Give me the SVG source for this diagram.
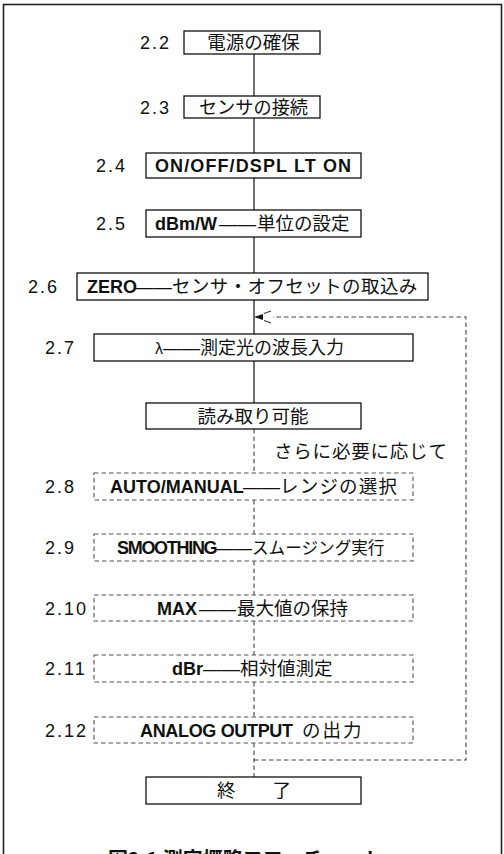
<svg xmlns="http://www.w3.org/2000/svg" width="504" height="854" viewBox="0 0 504 854">
<defs>
<style>
.frame{fill:none;stroke:#222;stroke-width:1.6}
.box{fill:#fff;stroke:#111;stroke-width:1.3}
.dbox{fill:#fff;stroke:#555;stroke-width:1.1;stroke-dasharray:4.5 3}
.line{fill:none;stroke:#111;stroke-width:1.2}
.dline{fill:none;stroke:#444;stroke-width:1.1;stroke-dasharray:4.5 3}
.num{font-family:"Liberation Sans",Arial,sans-serif;font-size:18px;letter-spacing:2px;fill:#111}
.jp{font-family:"Noto Sans CJK JP","Noto Sans",sans-serif;font-size:18.5px;fill:#111}
.en{font-family:"Liberation Sans",Arial,sans-serif;font-size:18px;font-weight:bold;fill:#111}
.dash{font-family:"Liberation Sans",Arial,sans-serif;font-size:18.5px;font-weight:normal}
.cap{font-family:"Noto Sans CJK JP",sans-serif;font-size:20px;font-weight:bold;fill:#111}
</style>
<marker id="ah" markerUnits="userSpaceOnUse" markerWidth="30" markerHeight="20" refX="0" refY="0" orient="auto" overflow="visible" viewBox="-2 -10 30 20">
<path d="M19,0 L10,-3 L10,3 Z" fill="#111"/>
<path d="M9,-3.5 L2,-6 M9,3.5 L2,6" stroke="#333" stroke-width="1.1" fill="none"/>
</marker>
</defs>
<rect x="0" y="0" width="504" height="854" fill="#fff"/>
<rect class="frame" x="3.5" y="4.5" width="498" height="870"/>

<g id="connectors">
<path class="line" d="M254,54 V96 M254,118 V153 M254,178 V210 M254,237 V273 M254,300 V334 M254,361 V403"/>
<path class="dline" d="M254,429 V473 M254,500 V534 M254,561 V595 M254,621 V655 M254,682 V717 M254,743 V777"/>
<path class="dline" d="M254,760 H466 V317 H273" marker-end="url(#ah)"/>
</g>

<g id="n22">
<text class="num" x="140" y="49">2.2</text>
<rect class="box" x="184" y="31" width="136" height="23"/>
<text class="jp" x="253.5" y="49" text-anchor="middle">電源の確保</text>
</g>
<g id="n23">
<text class="num" x="140" y="114">2.3</text>
<rect class="box" x="184" y="96" width="136" height="22"/>
<text class="jp" x="253.5" y="113.5" text-anchor="middle" style="font-size:18.2px">センサの接続</text>
</g>
<g id="n24">
<text class="num" x="96" y="172">2.4</text>
<rect class="box" x="146" y="153" width="215" height="25"/>
<text class="en" x="155" y="172" textLength="196" lengthAdjust="spacing">ON/OFF/DSPL LT ON</text>
</g>
<g id="n25">
<text class="num" x="96" y="230">2.5</text>
<rect class="box" x="146" y="210" width="215" height="27"/>
<text class="jp" y="230"><tspan class="en" x="155">dBm/W</tspan><tspan class="dash" x="219">——</tspan><tspan x="257">単位の設定</tspan></text>
</g>
<g id="n26">
<text class="num" x="28" y="293">2.6</text>
<rect class="box" x="77" y="273" width="351" height="27"/>
<text class="jp" y="293"><tspan class="en" x="87">ZERO</tspan><tspan class="dash" x="135">——</tspan><tspan x="172" style="letter-spacing:0.4px">センサ・オフセットの取込み</tspan></text>
</g>
<g id="n27">
<text class="num" x="45" y="354">2.7</text>
<rect class="box" x="94" y="334" width="319" height="27"/>
<text class="jp" y="354"><tspan x="155" style="font-family:'Liberation Sans',sans-serif;font-size:16px">λ</tspan><tspan class="dash" x="163">——</tspan><tspan x="200" style="font-size:18px">測定光の波長入力</tspan></text>
</g>
<g id="nread">
<rect class="box" x="146" y="403" width="215" height="26"/>
<text class="jp" x="253" y="422.5" text-anchor="middle">読み取り可能</text>
</g>
<g id="note">
<text class="jp" x="274" y="457.5" style="letter-spacing:0.8px">さらに必要に応じて</text>
</g>
<g id="n28">
<text class="num" x="45" y="493">2.8</text>
<rect class="dbox" x="94" y="473" width="319" height="27"/>
<text class="jp" y="493"><tspan class="en" x="110">AUTO/MANUAL</tspan><tspan class="dash" x="243">——</tspan><tspan x="280" style="letter-spacing:1.2px">レンジの選択</tspan></text>
</g>
<g id="n29">
<text class="num" x="45" y="554">2.9</text>
<rect class="dbox" x="94" y="534" width="319" height="27"/>
<text class="jp" y="554"><tspan class="en" x="117" style="letter-spacing:-1.3px">SMOOTHING</tspan><tspan class="dash" x="215">——</tspan><tspan x="252" style="font-size:16.6px">スムージング実行</tspan></text>
</g>
<g id="n210">
<text class="num" x="45" y="614.5">2.10</text>
<rect class="dbox" x="94" y="595" width="319" height="26"/>
<text class="jp" y="614.5"><tspan class="en" x="157">MAX</tspan><tspan class="dash" x="199">——</tspan><tspan x="237">最大値の保持</tspan></text>
</g>
<g id="n211">
<text class="num" x="45" y="675">2.11</text>
<rect class="dbox" x="94" y="655" width="319" height="27"/>
<text class="jp" y="675"><tspan class="en" x="172">dBr</tspan><tspan class="dash" x="203">——</tspan><tspan x="240">相対値測定</tspan></text>
</g>
<g id="n212">
<text class="num" x="45" y="736.5">2.12</text>
<rect class="dbox" x="94" y="717" width="319" height="26"/>
<text class="jp" y="736.5"><tspan class="en" x="140" textLength="153" lengthAdjust="spacing">ANALOG OUTPUT</tspan><tspan x="302" style="letter-spacing:2px">の出力</tspan></text>
</g>
<g id="nend">
<rect class="box" x="146" y="777" width="215" height="27"/>
<text class="jp" x="217" y="797">終　　了</text>
</g>
<g id="caption">
<text class="cap" x="108" y="867">図2.1 測定概略フローチャート</text>
</g>
</svg>
